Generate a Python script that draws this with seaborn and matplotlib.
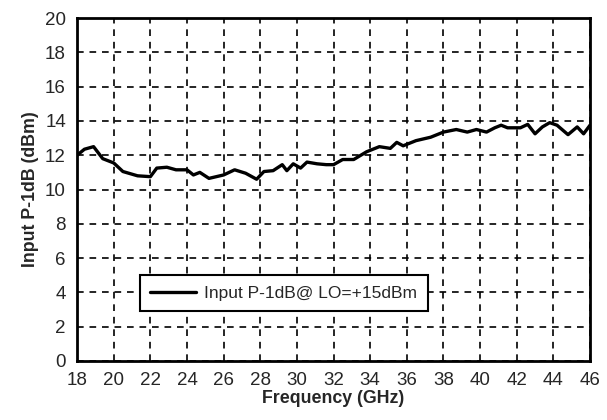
import numpy as np
import pandas as pd
import matplotlib
matplotlib.use("Agg")
import matplotlib.pyplot as plt
from matplotlib.ticker import MultipleLocator
import seaborn as sns

# Curve
freq_ghz = [18.0, 18.4, 18.9, 19.4, 20.0, 20.5, 21.3, 22.0, 22.35, 22.9, 23.4, 24.0,
            24.35, 24.7, 25.2, 26.0, 26.6, 27.2, 27.8, 28.2, 28.7, 29.2, 29.45, 29.8,
            30.2, 30.55, 31.1, 31.6, 32.0, 32.5, 33.1, 33.8, 34.5, 35.1, 35.45, 35.8,
            36.5, 37.3, 38.0, 38.7, 39.3, 39.8, 40.35, 40.8, 41.15, 41.5, 42.2, 42.6,
            43.0, 43.4, 43.8, 44.2, 44.8, 45.3, 45.65, 46.0]
p1db_dbm = [12.0, 12.35, 12.5, 11.8, 11.55, 11.05, 10.8, 10.75, 11.25, 11.3, 11.15, 11.15,
            10.85, 11.0, 10.65, 10.85, 11.15, 10.95, 10.6, 11.05, 11.1, 11.45, 11.1, 11.5,
            11.25, 11.6, 11.5, 11.45, 11.45, 11.75, 11.75, 12.2, 12.5, 12.4, 12.75, 12.55,
            12.85, 13.05, 13.35, 13.5, 13.35, 13.5, 13.35, 13.6, 13.75, 13.6, 13.6, 13.8,
            13.25, 13.65, 13.9, 13.75, 13.2, 13.65, 13.25, 13.75]
series_label = "Input P-1dB@ LO=+15dBm"

df = pd.DataFrame({"freq": freq_ghz, "p1db": p1db_dbm})

sns.set_style("white")
plt.rcParams["font.family"] = ["Liberation Sans", "DejaVu Sans"]

fig = plt.figure(figsize=(6.07, 4.2), dpi=100)
ax = fig.add_axes([0.127, 0.1405, 0.845, 0.8165])

sns.lineplot(data=df, x="freq", y="p1db", ax=ax, color="black", linewidth=2.4,
             label=series_label, solid_joinstyle="round", solid_capstyle="round")

ax.set_xlim(18, 46)
ax.set_ylim(0, 20)
ax.xaxis.set_major_locator(MultipleLocator(2))
ax.xaxis.set_minor_locator(MultipleLocator(1))
ax.yaxis.set_major_locator(MultipleLocator(2))
ax.yaxis.set_minor_locator(MultipleLocator(1))
ax.tick_params(which="major", direction="inout", length=8, width=1.2, labelsize=13.5,
               top=False, right=False, pad=4)
ax.tick_params(which="minor", direction="in", length=4, width=1.2, top=False, right=False)
ax.grid(True, which="major", color="black", linestyle=(0, (4, 3.5)), linewidth=1.2)

for s in ax.spines.values():
    s.set_visible(True)
    s.set_color("black")
    s.set_linewidth(2)

ax.set_xlabel("Frequency (GHz)", fontsize=12.8, fontweight="bold", labelpad=1)
ax.set_ylabel("Input P-1dB (dBm)", fontsize=12.8, fontweight="bold", labelpad=4)

leg = ax.legend(loc="center", bbox_to_anchor=(0.403, 0.198), fontsize=12.5,
                frameon=True, fancybox=False, handlelength=2.6, handletextpad=0.5,
                borderpad=0.6)
leg.get_frame().set_edgecolor("black")
leg.get_frame().set_linewidth(1.5)
leg.get_frame().set_alpha(1)

fig.savefig("out.png", dpi=100)
